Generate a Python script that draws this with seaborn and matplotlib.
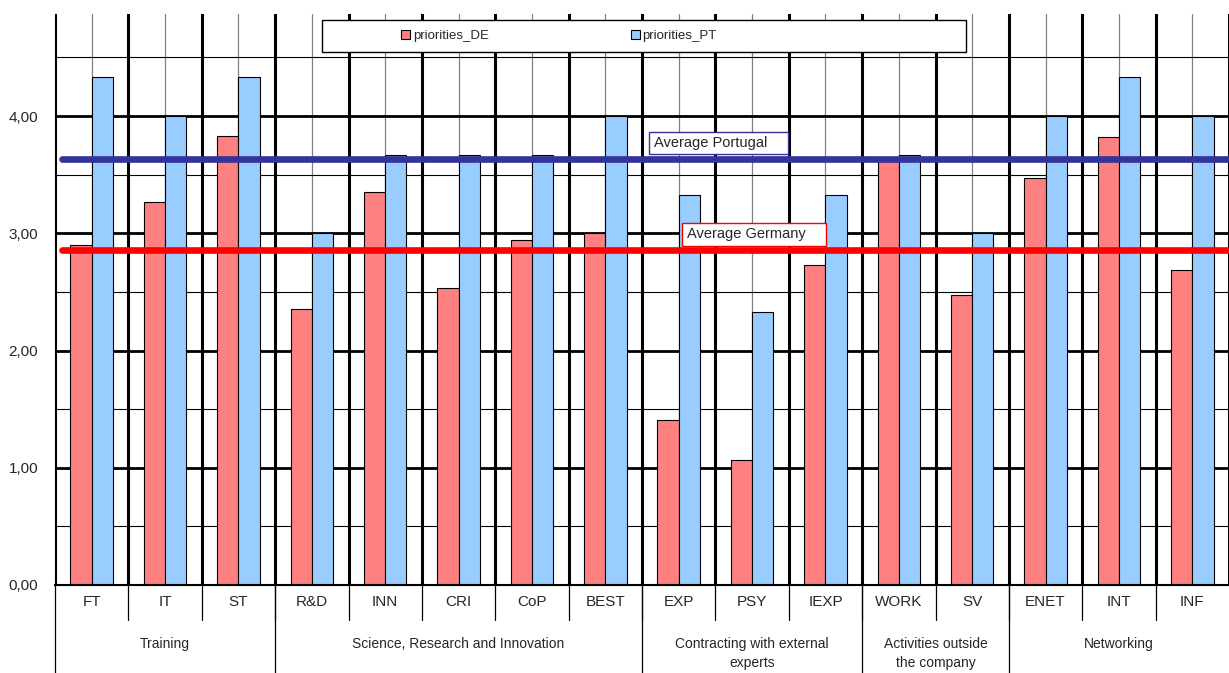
import numpy as np
import pandas as pd
import seaborn as sns
import matplotlib.pyplot as plt
from matplotlib.patches import Patch, Rectangle
from matplotlib.ticker import MultipleLocator, FixedLocator, FuncFormatter

# data
categories = ["FT", "IT", "ST", "R&D", "INN", "CRI", "CoP", "BEST",
              "EXP", "PSY", "IEXP", "WORK", "SV", "ENET", "INT", "INF"]
priorities_de = [2.90, 3.27, 3.83, 2.35, 3.35, 2.53, 2.94, 3.00,
                 1.41, 1.07, 2.73, 3.63, 2.47, 3.47, 3.82, 2.69]
priorities_pt = [4.33, 4.00, 4.33, 3.00, 3.67, 3.67, 3.67, 4.00,
                 3.33, 2.33, 3.33, 3.67, 3.00, 4.00, 4.33, 4.00]
groups = ["Training", "Science, Research and Innovation",
          "Contracting with external\nexperts", "Activities outside\nthe company",
          "Networking"]
group_sizes = [3, 5, 3, 2, 3]
avg_germany = 2.86
avg_portugal = 3.63

RED = "#FF8080"
BLUE = "#99CCFF"

sns.set_style("white")
plt.rcParams["font.family"] = ["Liberation Sans", "DejaVu Sans"]

df = pd.DataFrame({
    "item": categories * 2,
    "value": priorities_de + priorities_pt,
    "series": ["priorities_DE"] * len(categories) + ["priorities_PT"] * len(categories),
})

W, H = 1229, 673
fig = plt.figure(figsize=(W / 100, H / 100), dpi=100)
ax = fig.add_axes([55 / W, 1 - 585 / H, 1 - 55 / W, (585 - 14) / H])

sns.barplot(data=df, x="item", y="value", hue="series",
            palette=[RED, BLUE], width=0.58, gap=0,
            edgecolor="black", linewidth=0.8, saturation=1,
            legend=False, ax=ax)

ax.set_ylim(0, (585 - 14) / 117.25)
ax.set_xlim(-0.5, len(categories) - 0.5)

# grid: thick lines at whole units / category borders, thin ones in between
ax.set_axisbelow(True)
ax.yaxis.set_major_locator(FixedLocator([0, 1, 2, 3, 4]))
ax.yaxis.set_minor_locator(MultipleLocator(0.5))
ax.xaxis.set_minor_locator(FixedLocator(np.arange(-0.5, len(categories), 1)))
ax.grid(which="major", axis="y", color="black", lw=2)
ax.grid(which="minor", axis="y", color="black", lw=0.8)
ax.grid(which="major", axis="x", color="#808080", lw=0.9)
ax.grid(which="minor", axis="x", color="black", lw=2.2)

ax.yaxis.set_major_formatter(FuncFormatter(lambda v, p: f"{v:.2f}".replace(".", ",")))
ax.tick_params(axis="y", which="major", length=9, width=1, color="black",
               labelsize=11, pad=3)
ax.tick_params(axis="both", which="minor", length=0)
ax.tick_params(axis="x", which="major", length=0, labelsize=11, pad=7)
ax.set_xlabel("")
ax.set_ylabel("")
for side in ["top", "right"]:
    ax.spines[side].set_visible(False)
ax.spines["left"].set_color("black")
ax.spines["bottom"].set_color("black")
ax.spines["bottom"].set_linewidth(1.5)

# average lines with their labels
ax.axhline(avg_portugal, xmin=0.006, color="#333399", lw=4.8, zorder=4)
ax.axhline(avg_germany, xmin=0.006, color="#FF0000", lw=4.8, zorder=4)
ax.text(7.66, 3.77, "Average Portugal    ", ha="left", va="center", fontsize=10.5,
        zorder=5, bbox=dict(boxstyle="square,pad=0.3", fc="white", ec="#333399", lw=1))
ax.text(8.11, 2.99, "Average Germany    ", ha="left", va="center", fontsize=10.5,
        zorder=5, bbox=dict(boxstyle="square,pad=0.3", fc="white", ec="#FF0000", lw=1))

# two-level category axis below the plot
trans = ax.get_xaxis_transform()
for b in np.arange(0.5, len(categories) - 1, 1):
    ax.plot([b, b], [0, -0.061], transform=trans, color="black", lw=0.9, clip_on=False)
edges = np.concatenate([[0], np.cumsum(group_sizes)]) - 0.5
for b in edges[:-1]:
    ax.plot([b, b], [0, -0.2], transform=trans, color="black", lw=0.9, clip_on=False)
for name, lo, hi in zip(groups, edges[:-1], edges[1:]):
    ax.text((lo + hi) / 2, -0.091, name, transform=trans, ha="center", va="top",
            fontsize=10, linespacing=1.5)

# legend in a wide framed box
handles = [Patch(facecolor=RED, edgecolor="black", lw=0.8),
           Patch(facecolor=BLUE, edgecolor="black", lw=0.8)]
fig.add_artist(Rectangle((322 / W, 1 - 52 / H), (966 - 322) / W, 32 / H,
                         transform=fig.transFigure, facecolor="white",
                         edgecolor="black", lw=1, zorder=4))
fig.legend(handles, ["priorities_DE", "priorities_PT"], ncol=2, loc="center",
           bbox_to_anchor=(559 / W, 1 - 36 / H), frameon=False, fontsize=9.5,
           handlelength=0.65, handleheight=0.65, handletextpad=0.2,
           columnspacing=10.8)

fig.savefig("out.png", dpi=100)
